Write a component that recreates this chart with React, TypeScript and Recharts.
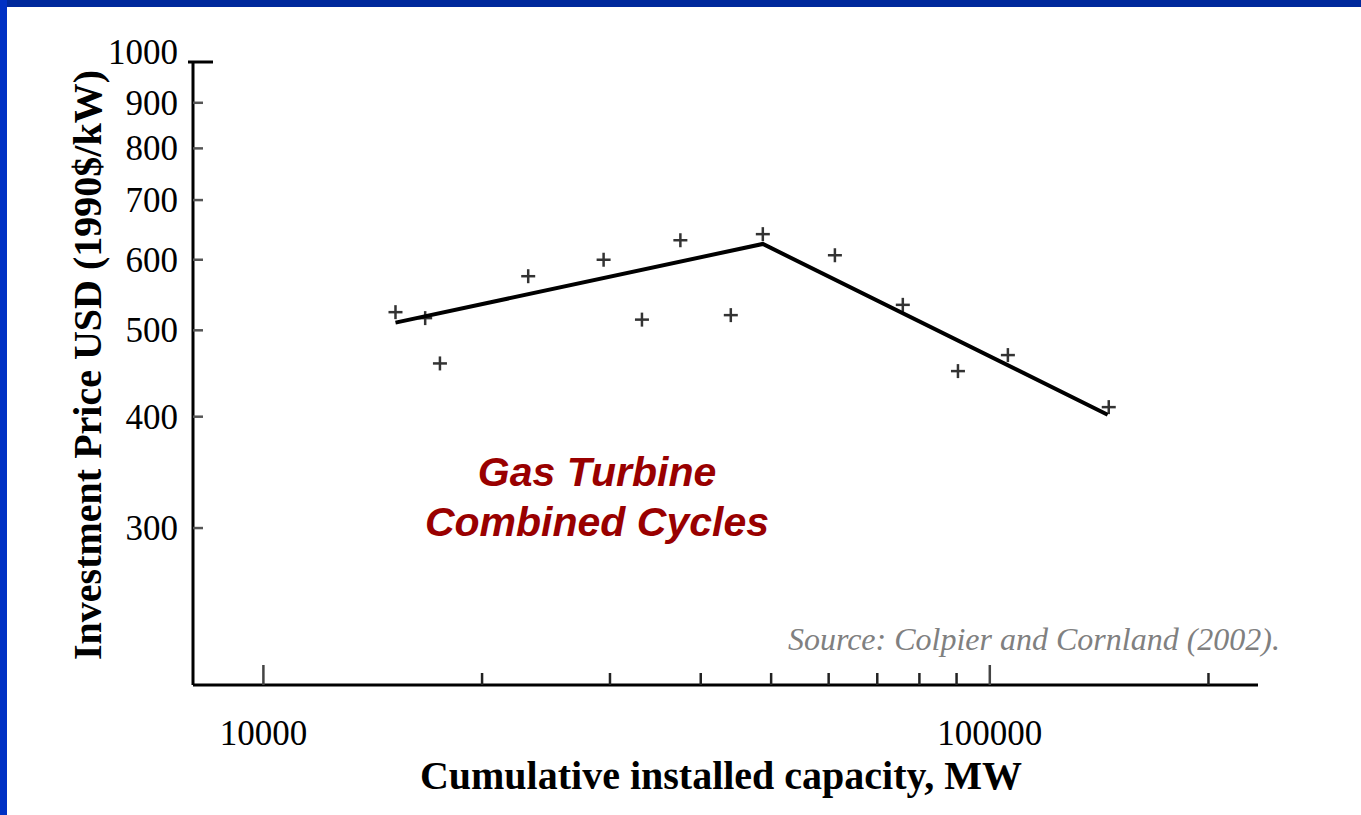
import React from "react";
import { ComposedChart, Scatter, XAxis, YAxis } from "recharts";

// observed points (MW, 1990$/kW)
const capacityMW = [15200, 16700, 17500, 23150, 29400, 33200, 37500, 44000, 48700, 61200, 75900, 90400, 105900, 145800];
const priceUSD = [524, 516, 459, 575, 600, 514, 631, 520, 641, 607, 534, 450, 469, 410];

// piecewise learning curve
const fitCapacity = [15200, 48700, 145300];
const fitPrice = [510, 625, 402];

const xTicks = [10000, 20000, 30000, 40000, 50000, 60000, 70000, 80000, 90000, 100000, 200000];
const xLabelled = [10000, 100000];
const yTicks = [300, 400, 500, 600, 700, 800, 900, 1000];

const points = capacityMW.map((x, i) => ({ x, y: priceUSD[i] }));
const fit = fitCapacity.map((x, i) => ({ x, y: fitPrice[i] }));

const W = 1361;
const H = 815;
const serif = "'Liberation Serif', 'Times New Roman', serif";
const sans = "'Liberation Sans', Arial, sans-serif";

const XTick = (props: any) => {
  const { x, y, payload } = props;
  const major = xLabelled.includes(payload.value);
  return (
    <g>
      <line x1={x} x2={x} y1={y} y2={y - (major ? 20 : 12)} stroke={major ? "#444" : "#222"} strokeWidth={2.5} />
      {major && (
        <text x={x} y={y + 60} textAnchor="middle" fontFamily={serif} fontSize={35} fill="#000">
          {payload.value}
        </text>
      )}
    </g>
  );
};

const YTick = (props: any) => {
  const { x, y, payload } = props;
  const top = payload.value === 1000;
  return (
    <g>
      {top ? (
        <line x1={x - 5} x2={x + 20} y1={y} y2={y} stroke="#000" strokeWidth={3} />
      ) : (
        <line x1={x} x2={x + 10} y1={y} y2={y} stroke="#555" strokeWidth={2.5} />
      )}
      <text x={x - 15} y={y + (top ? -10 : 0)} dy={12} textAnchor="end" fontFamily={serif} fontSize={35} fill="#000">
        {payload.value}
      </text>
    </g>
  );
};

const Cross = (props: any) => {
  const { cx, cy } = props;
  if (cx == null || cy == null) return <g />;
  return (
    <g stroke="#333" strokeWidth={2.5}>
      <line x1={cx - 7} x2={cx + 7} y1={cy} y2={cy} />
      <line x1={cx} x2={cx} y1={cy - 7} y2={cy + 7} />
    </g>
  );
};

export default function App() {
  return (
    <div style={{ position: "absolute", left: 0, top: 0, width: W, height: H, background: "#fff", overflow: "hidden" }}>
      <div style={{ position: "absolute", left: 0, top: 0, width: W, height: 7, background: "#00299c" }} />
      <div style={{ position: "absolute", left: 0, top: 0, width: 7, height: H, background: "#0031c4" }} />

      <div style={{ position: "absolute", left: 0, top: 0 }}>
        <ComposedChart width={W} height={H} margin={{ top: 62, right: 103, bottom: 70, left: 133 }}>
          <XAxis
            type="number"
            dataKey="x"
            scale="log"
            domain={[8000, 234000]}
            allowDataOverflow
            ticks={xTicks}
            interval={0}
            height={60}
            tickSize={0}
            tickMargin={0}
            tickLine={false}
            axisLine={{ stroke: "#000", strokeWidth: 3 }}
            tick={<XTick />}
          />
          <YAxis
            type="number"
            dataKey="y"
            scale="log"
            domain={[200, 1000]}
            allowDataOverflow
            ticks={yTicks}
            interval={0}
            width={60}
            tickSize={0}
            tickMargin={0}
            tickLine={false}
            axisLine={{ stroke: "#000", strokeWidth: 3 }}
            tick={<YTick />}
          />
          <Scatter data={points} shape={<Cross />} isAnimationActive={false} />
          <Scatter
            data={fit}
            line={{ stroke: "#000", strokeWidth: 4 }}
            stroke="#000"
            shape={() => <g />}
            isAnimationActive={false}
          />
        </ComposedChart>
      </div>

      <svg width={W} height={H} style={{ position: "absolute", left: 0, top: 0, pointerEvents: "none" }}>
        <text
          transform="translate(101, 365) rotate(-90)"
          textAnchor="middle"
          fontFamily={serif}
          fontWeight="bold"
          fontSize={40}
          fill="#000"
        >
          Investment Price USD (1990$/kW)
        </text>
        <text x={721} y={789} textAnchor="middle" fontFamily={serif} fontWeight="bold" fontSize={40} fill="#000">
          Cumulative installed capacity, MW
        </text>
        <text fontFamily={sans} fontWeight="bold" fontStyle="italic" fontSize={41} fill="#990000" textAnchor="middle">
          <tspan x={597} y={486}>Gas Turbine</tspan>
          <tspan x={597} y={536}>Combined Cycles</tspan>
        </text>
        <text x={1280} y={650} textAnchor="end" fontFamily={serif} fontStyle="italic" fontSize={32} fill="#808080">
          Source: Colpier and Cornland (2002).
        </text>
      </svg>
    </div>
  );
}
